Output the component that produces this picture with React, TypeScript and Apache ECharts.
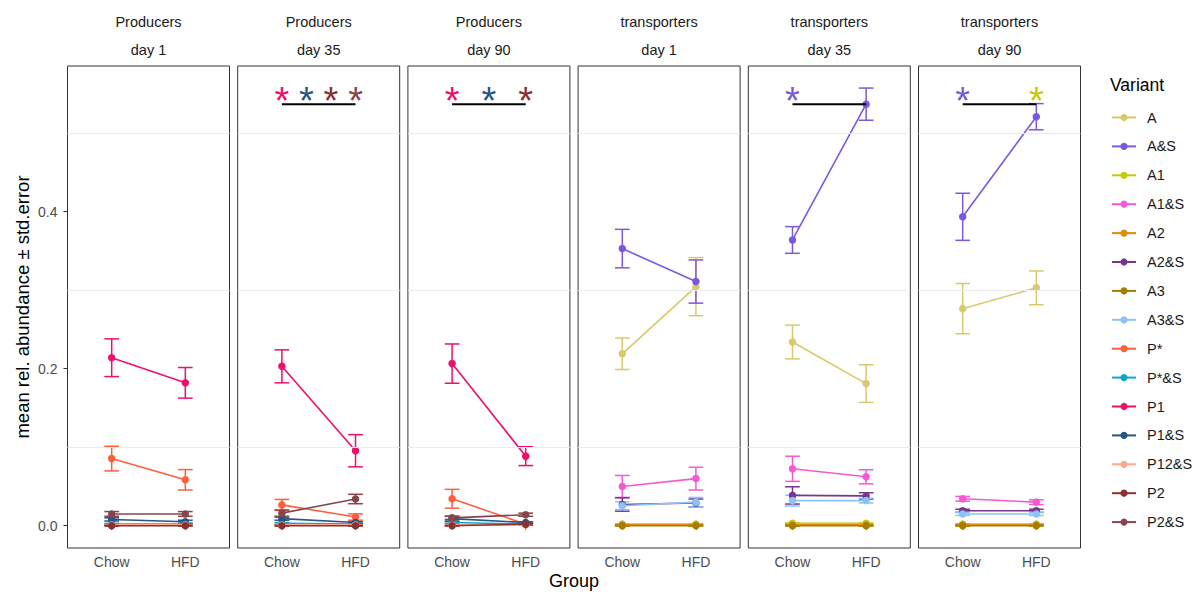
import React, { useEffect, useRef } from "react";
import * as echarts from "echarts";

const FONT = "'Liberation Sans', Arial, Helvetica, sans-serif";

const groups = ["Chow", "HFD"];
const variants = ["A", "A&S", "A1", "A1&S", "A2", "A2&S", "A3", "A3&S", "P*", "P*&S", "P1", "P1&S", "P12&S", "P2", "P2&S"];
const variantColors = ["#D8C96B", "#7B58E0", "#C8C80A", "#F558D2", "#E08C0C", "#763592", "#A87C02", "#8CC3F6", "#FD5F3A", "#0FA6C9", "#EE0F6C", "#24568A", "#FEA98D", "#8C2F2F", "#88454B"];

const panelTypes = ["Producers", "Producers", "Producers", "transporters", "transporters", "transporters"];
const panelDays = ["day 1", "day 35", "day 90", "day 1", "day 35", "day 90"];

// mean values [Chow, HFD]
const producersDay1Mean: Record<string, number[]> = {
  "P*": [0.0855, 0.0585], "P*&S": [0.002, 0.002], P1: [0.214, 0.182], "P1&S": [0.008, 0.005],
  "P12&S": [0.001, 0.001], P2: [0.0, 0.0], "P2&S": [0.015, 0.015],
};
const producersDay1Se: Record<string, number[]> = {
  "P*": [0.0157, 0.013], "P*&S": [0.001, 0.001], P1: [0.024, 0.0195], "P1&S": [0.002, 0.002],
  "P12&S": [0.0005, 0.0005], P2: [0.0005, 0.0005], "P2&S": [0.003, 0.003],
};
const producersDay35Mean: Record<string, number[]> = {
  "P*": [0.0265, 0.011], "P*&S": [0.003, 0.002], P1: [0.203, 0.0955], "P1&S": [0.009, 0.004],
  "P12&S": [0.001, 0.001], P2: [0.0, 0.0], "P2&S": [0.016, 0.034],
};
const producersDay35Se: Record<string, number[]> = {
  "P*": [0.007, 0.004], "P*&S": [0.001, 0.001], P1: [0.021, 0.0205], "P1&S": [0.002, 0.001],
  "P12&S": [0.0005, 0.0005], P2: [0.0005, 0.0005], "P2&S": [0.004, 0.006],
};
const producersDay90Mean: Record<string, number[]> = {
  "P*": [0.0343, 0.002], "P*&S": [0.004, 0.002], P1: [0.2065, 0.0886], "P1&S": [0.009, 0.004],
  "P12&S": [0.001, 0.001], P2: [0.0, 0.002], "P2&S": [0.01, 0.014],
};
const producersDay90Se: Record<string, number[]> = {
  "P*": [0.012, 0.001], "P*&S": [0.001, 0.001], P1: [0.025, 0.012], "P1&S": [0.003, 0.001],
  "P12&S": [0.0005, 0.0005], P2: [0.0005, 0.001], "P2&S": [0.002, 0.002],
};
const transportersDay1Mean: Record<string, number[]> = {
  A: [0.219, 0.3045], "A&S": [0.353, 0.311], A1: [0.002, 0.002], "A1&S": [0.05, 0.06],
  A2: [0.001, 0.001], "A2&S": [0.027, 0.029], A3: [0.0, 0.0], "A3&S": [0.0255, 0.03],
};
const transportersDay1Se: Record<string, number[]> = {
  A: [0.02, 0.037], "A&S": [0.0245, 0.0275], A1: [0.0005, 0.0005], "A1&S": [0.014, 0.0145],
  A2: [0.0005, 0.0005], "A2&S": [0.0085, 0.005], A3: [0.0005, 0.0005], "A3&S": [0.005, 0.006],
};
const transportersDay35Mean: Record<string, number[]> = {
  A: [0.234, 0.181], "A&S": [0.364, 0.537], A1: [0.003, 0.003], "A1&S": [0.0725, 0.0623],
  A2: [0.001, 0.001], "A2&S": [0.0386, 0.038], A3: [0.0, 0.0], "A3&S": [0.032, 0.032],
};
const transportersDay35Se: Record<string, number[]> = {
  A: [0.0215, 0.024], "A&S": [0.017, 0.0205], A1: [0.0005, 0.0005], "A1&S": [0.016, 0.009],
  A2: [0.0005, 0.0005], "A2&S": [0.011, 0.004], A3: [0.0005, 0.0005], "A3&S": [0.007, 0.003],
};
const transportersDay90Mean: Record<string, number[]> = {
  A: [0.2765, 0.303], "A&S": [0.3935, 0.521], A1: [0.002, 0.002], "A1&S": [0.0343, 0.03],
  A2: [0.001, 0.001], "A2&S": [0.019, 0.019], A3: [0.0, 0.0], "A3&S": [0.015, 0.015],
};
const transportersDay90Se: Record<string, number[]> = {
  A: [0.032, 0.0215], "A&S": [0.03, 0.0167], A1: [0.0005, 0.0005], "A1&S": [0.003, 0.003],
  A2: [0.0005, 0.0005], "A2&S": [0.002, 0.002], A3: [0.0005, 0.0005], "A3&S": [0.002, 0.002],
};

const panelMeans = [producersDay1Mean, producersDay35Mean, producersDay90Mean, transportersDay1Mean, transportersDay35Mean, transportersDay90Mean];
const panelSes = [producersDay1Se, producersDay35Se, producersDay90Se, transportersDay1Se, transportersDay35Se, transportersDay90Se];

// significance marks
const sigBarY = [null, 0.537, 0.537, null, 0.537, 0.537];
const starPanel = [1, 1, 1, 1, 2, 2, 2, 4, 5, 5];
const starX = [1, 1.333, 1.667, 2, 1, 1.5, 2, 1, 1, 2];
const starVariant = ["P1", "P1&S", "P2", "P2&S", "P1", "P1&S", "P2", "A&S", "A&S", "A1"];
const starY = 0.537;

const yTicks = [0, 0.2, 0.4];
const yMinorGrid = [0.1, 0.3, 0.5];

// layout
const PANEL_LEFT = [67.5, 237.7, 407.9, 578.1, 748.3, 918.5];
const PANEL_W = 162;
const PANEL_TOP = 66;
const PANEL_H = 482;

const colorOf = (v: string) => variantColors[variants.indexOf(v)];

export default function App() {
  const ref = useRef<HTMLDivElement>(null);
  useEffect(() => {
    if (!ref.current) return;
    const chart = echarts.init(ref.current, undefined, { renderer: "svg" });

    const grid: any[] = [];
    const xAxis: any[] = [];
    const yAxis: any[] = [];
    const series: any[] = [];
    const graphic: any[] = [];

    PANEL_LEFT.forEach((left, i) => {
      grid.push({ left, top: PANEL_TOP, width: PANEL_W, height: PANEL_H, show: true, borderColor: "#333333", borderWidth: 1, backgroundColor: "transparent" });
      xAxis.push({
        gridIndex: i, type: "value", min: 0.4, max: 2.6,
        axisLine: { show: false },
        axisTick: { show: true, customValues: [1, 2], length: 4, lineStyle: { color: "#333333" } },
        axisLabel: { customValues: [1, 2], formatter: (v: number) => groups[Math.round(v) - 1] ?? "", fontSize: 14, color: "#4d4d4d", fontFamily: FONT, margin: 7 },
        splitLine: { show: false },
      });
      yAxis.push({
        gridIndex: i, type: "value", min: -0.0284, max: 0.5856,
        axisLine: { show: false },
        axisTick: { show: i === 0, customValues: yTicks, length: 4, lineStyle: { color: "#333333" } },
        axisLabel: { show: i === 0, customValues: yTicks, formatter: (v: number) => v.toFixed(1), fontSize: 14, color: "#4d4d4d", fontFamily: FONT, margin: 10 },
        splitLine: { show: false },
      });

      // minor grid lines
      series.push({
        type: "line", name: "grid" + i, xAxisIndex: i, yAxisIndex: i, data: [[1, 0]], symbol: "none",
        lineStyle: { opacity: 0 }, silent: true, z: 1,
        markLine: {
          silent: true, symbol: "none", label: { show: false },
          lineStyle: { color: "#ebebeb", width: 1, type: "solid" },
          data: yMinorGrid.map((y) => ({ yAxis: y })),
        },
      });

      const means = panelMeans[i];
      const ses = panelSes[i];
      Object.keys(means).forEach((v) => {
        const color = colorOf(v);
        const m = means[v];
        const s = ses[v];
        series.push({
          type: "custom", name: "err-" + v + "-" + i, xAxisIndex: i, yAxisIndex: i, z: 2, silent: true,
          itemStyle: { color },
          data: m.map((mv, k) => [k + 1, mv - s[k], mv + s[k]]),
          renderItem: (params: any, api: any) => {
            const x = api.value(0);
            const lo = api.coord([x, api.value(1)]);
            const hi = api.coord([x, api.value(2)]);
            const l = api.coord([x - 0.1, api.value(1)]);
            const r = api.coord([x + 0.1, api.value(1)]);
            const style = { stroke: color, lineWidth: 1.5 };
            return {
              type: "group",
              children: [
                { type: "line", shape: { x1: lo[0], y1: lo[1], x2: hi[0], y2: hi[1] }, style },
                { type: "line", shape: { x1: l[0], y1: lo[1], x2: r[0], y2: lo[1] }, style },
                { type: "line", shape: { x1: l[0], y1: hi[1], x2: r[0], y2: hi[1] }, style },
              ],
            };
          },
        });
      });
      Object.keys(means).forEach((v) => {
        const color = colorOf(v);
        series.push({
          type: "line", name: v, xAxisIndex: i, yAxisIndex: i, z: 3,
          data: means[v].map((mv, k) => [k + 1, mv]),
          symbol: "circle", symbolSize: 7.5, showSymbol: true,
          itemStyle: { color }, lineStyle: { color, width: 1.6 },
          emphasis: { disabled: true },
        });
      });

      if (sigBarY[i] != null) {
        series.push({
          type: "line", name: "sig" + i, xAxisIndex: i, yAxisIndex: i, z: 4, silent: true,
          data: [[1, sigBarY[i]], [2, sigBarY[i]]], symbol: "none",
          lineStyle: { color: "#000000", width: 2 },
        });
      }
      const starIdx = starPanel.map((p, k) => (p === i ? k : -1)).filter((k) => k >= 0);
      if (starIdx.length) {
        series.push({
          type: "custom", name: "stars" + i, xAxisIndex: i, yAxisIndex: i, z: 5, silent: true,
          data: starIdx.map((k) => ({ value: [starX[k], starY], itemStyle: { color: colorOf(starVariant[k]) } })),
          renderItem: (params: any, api: any) => {
            const p = api.coord([api.value(0), api.value(1)]);
            return {
              type: "text", x: p[0], y: p[1] - 3,
              style: { text: "*", fill: api.visual("color"), fontSize: 38, fontFamily: FONT, align: "center", verticalAlign: "middle" },
            };
          },
        });
      }

      const cx = left + PANEL_W / 2;
      graphic.push({ type: "text", x: cx, y: 22, style: { text: panelTypes[i], fontSize: 14.5, fill: "#1a1a1a", fontFamily: FONT, align: "center", verticalAlign: "middle" } });
      graphic.push({ type: "text", x: cx, y: 50, style: { text: panelDays[i], fontSize: 14.5, fill: "#1a1a1a", fontFamily: FONT, align: "center", verticalAlign: "middle" } });
    });

    graphic.push({ type: "text", x: 22, y: 307, rotation: Math.PI / 2, style: { text: "mean rel. abundance ± std.error", fontSize: 18.5, fill: "#000000", fontFamily: FONT, align: "center", verticalAlign: "middle" } });
    graphic.push({ type: "text", x: 574, y: 581, style: { text: "Group", fontSize: 18, fill: "#000000", fontFamily: FONT, align: "center", verticalAlign: "middle" } });
    graphic.push({ type: "text", x: 1110, y: 85, style: { text: "Variant", fontSize: 17.5, fill: "#000000", fontFamily: FONT, align: "left", verticalAlign: "middle" } });

    chart.setOption({
      animation: false,
      backgroundColor: "#ffffff",
      textStyle: { fontFamily: FONT },
      grid, xAxis, yAxis, series, graphic,
      legend: {
        orient: "vertical", left: 1106, top: 105, itemWidth: 24, itemHeight: 9, itemGap: 13.9,
        data: variants,
        textStyle: { fontSize: 14.5, color: "#1a1a1a", fontFamily: FONT, padding: [0, 0, 0, 6] },
      },
    });
    return () => chart.dispose();
  }, []);
  return <div ref={ref} style={{ position: "fixed", left: 0, top: 0, width: 1195, height: 592 }} />;
}
